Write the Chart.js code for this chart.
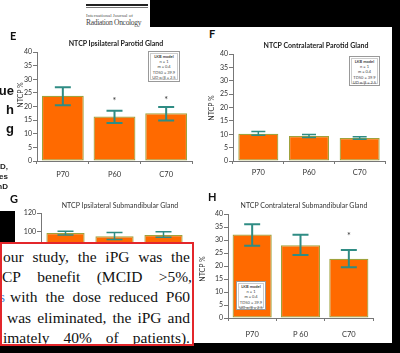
<!DOCTYPE html>
<html>
<head>
<meta charset="utf-8">
<script src="https://cdn.jsdelivr.net/npm/chart.js@4.4.1/dist/chart.umd.min.js"></script>
<style>
  html, body { margin: 0; padding: 0; background: #fff; }
  #page { position: relative; width: 400px; height: 353px; overflow: hidden; background: #fff; font-family: Lato, sans-serif; }
  .abs { position: absolute; }
  .blk { position: absolute; background: #000; }
  canvas { position: absolute; }
  .letter { position: absolute; font: bold 11px Lato, sans-serif; color: #111; }
  .ttl { position: absolute; font-size: 7px; color: #333; white-space: nowrap; transform: translate(-50%, -50%); }
  .ttl.b { font-weight: bold; color: #222; }
  .ytl { position: absolute; font-size: 7px; color: #333; white-space: nowrap; transform: translate(-50%, -50%) rotate(-90deg); }
  .lkb { position: absolute; box-sizing: border-box; background: #fff; border: 1px solid #999; box-shadow: inset 0 0 0 1px #fff, inset 0 0 0 2px #ccc;
         font-size: 4px; line-height: 5.2px; text-align: center; color: #444; padding-top: 2px; }
  .lkb div:first-child { font-weight: bold; }
  #quote { position: absolute; left: 0; top: 242px; width: 190px; height: 100px; border: 2px solid #e3262b; background: #fff; overflow: hidden;
           font-family: 'Liberation Serif', serif; font-size: 15.5px; color: #111; }
  .ln { position: absolute; display: flex; justify-content: space-between; white-space: nowrap; height: 20px; line-height: 20px; }
</style>
</head>
<body>
<div id="page">
  <canvas id="cE" width="196" height="140" style="left:0;top:45px"></canvas>
  <canvas id="cF" width="192" height="140" style="left:200px;top:45px"></canvas>
  <canvas id="cG" width="196" height="150" style="left:0;top:200px"></canvas>
  <canvas id="cH" width="190" height="140" style="left:195px;top:205px"></canvas>

  <!-- journal header -->
  <div class="abs" style="left:86px;top:4px;width:62px;border-top:2px solid #222"></div>
  <div class="abs" style="left:86px;top:7px;width:62px;border-top:1px solid #777"></div>
  <div class="abs" style="left:86px;top:13px;font:5px 'Liberation Serif',serif;color:#555;white-space:nowrap">International Journal of</div>
  <div class="abs" style="left:86px;top:18px;font:7.5px 'Liberation Serif',serif;letter-spacing:-0.3px;color:#444;white-space:nowrap">Radiation Oncology</div>

  <!-- cropped page text on the left -->
  <div class="abs" style="right:386px;top:81px;font:bold 13px 'Liberation Sans',sans-serif;line-height:19px;text-align:right;color:#111">ue<br>h<br>g</div>
  <div class="abs" style="right:392px;top:162px;font:bold 8px 'Liberation Sans',sans-serif;line-height:10px;text-align:right;color:#222">D,<br>es<br>hD</div>

  <div class="letter" style="left:10px;top:29px">E</div>
  <div class="letter" style="left:209px;top:27px">F</div>
  <div class="letter" style="left:10px;top:192px">G</div>
  <div class="letter" style="left:208px;top:190px">H</div>

  <div class="ttl b" style="left:116px;top:43px">NTCP Ipsilateral Parotid Gland</div>
  <div class="ttl b" style="left:316px;top:45px">NTCP Contralateral Parotid Gland</div>
  <div class="ttl" style="left:120px;top:205px">NTCP Ipsilateral Submandibular Gland</div>
  <div class="ttl" style="left:304px;top:205px">NTCP Contralateral Submandibular Gland</div>

  <div class="ytl" style="left:20px;top:95px">NTCP %</div>
  <div class="ytl" style="left:211px;top:108px">NTCP %</div>
  <div class="ytl" style="left:202px;top:269px">NTCP %</div>

  <div class="lkb" id="lkbE" style="left:148px;top:51px;width:32px;height:31px"></div>
  <div class="lkb" id="lkbF" style="left:349px;top:56px;width:31px;height:30px"></div>
  <div class="lkb" id="lkbH" style="left:236px;top:281px;width:30px;height:29px"></div>

  <!-- black surroundings of the screenshot -->
  <div class="blk" style="left:150px;top:0;width:250px;height:27px"></div>
  <div class="blk" style="left:392px;top:0;width:8px;height:353px"></div>
  <div class="blk" style="left:0;top:343px;width:400px;height:10px"></div>
  <div class="blk" style="left:0;top:211px;width:15px;height:32px"></div>

  <div id="quote"></div>
</div>

<script>
// categories
const groups = ['P70', 'P60', 'C70'];
const groupsH = ['P70', 'P 60', 'C70'];

// E: ipsilateral parotid gland
const ipgNtcp = [23.9, 16.3, 17.5];
const ipgLow = [20.5, 13.9, 14.9];
const ipgHigh = [27.1, 18.4, 19.8];
const ipgStar = [null, 22.6, 23.2];

// F: contralateral parotid gland
const cpgNtcp = [10.2, 9.3, 8.6];
const cpgLow = [9.6, 8.8, 8.1];
const cpgHigh = [11.0, 9.9, 9.1];

// G: ipsilateral submandibular gland
const ismNtcp = [98.5, 95, 96.5];
const ismLow = [96.5, 91.5, 94];
const ismHigh = [100.5, 99, 100];

// H: contralateral submandibular gland
const csmNtcp = [32.1, 28.0, 22.8];
const csmLow = [27.8, 24.2, 19.5];
const csmHigh = [36.1, 32.0, 26.2];
const csmStar = [null, null, 32.2];

const lkbLines = ['LKB model', 'n = 1', 'm = 0.4', 'TD50 = 39.9', 'UD α/β = 2.5'];

const quoteLines = [
  'our study, the iPG was the',
  'CP benefit (MCID >5%,',
  'with the dose reduced P60',
  'was eliminated, the iPG and',
  'imately 40% of patients).'
];

const BAR_FILL = '#ff6a00';
const BAR_EDGE = '#9fa23c';
const ERR = '#2f8c84';
const AXIS = '#777';

Chart.defaults.font.family = 'Lato, sans-serif';

// error bars + significance stars, positioned through the chart's own scales
function errorBars(low, high, stars, cap, width) {
  return {
    id: 'errorBars',
    afterDatasetsDraw(chart) {
      const ctx = chart.ctx;
      const x = chart.scales.x, y = chart.scales.y;
      ctx.save();
      ctx.strokeStyle = ERR;
      ctx.lineWidth = width;
      low.forEach((lo, i) => {
        const px = x.getPixelForValue(i);
        const yl = y.getPixelForValue(lo);
        const yh = y.getPixelForValue(high[i]);
        ctx.beginPath();
        ctx.moveTo(px, yl); ctx.lineTo(px, yh);
        ctx.moveTo(px - cap, yl); ctx.lineTo(px + cap, yl);
        ctx.moveTo(px - cap, yh); ctx.lineTo(px + cap, yh);
        ctx.stroke();
      });
      ctx.fillStyle = '#333';
      ctx.font = '9px Lato, sans-serif';
      ctx.textAlign = 'center';
      ctx.textBaseline = 'middle';
      (stars || []).forEach((s, i) => {
        if (s != null) ctx.fillText('*', x.getPixelForValue(i), y.getPixelForValue(s) + 2);
      });
      ctx.restore();
    }
  };
}

function panel(id, p) {
  return new Chart(document.getElementById(id), {
    type: 'bar',
    data: {
      labels: p.labels,
      datasets: [{
        data: p.values,
        backgroundColor: BAR_FILL,
        borderColor: BAR_EDGE,
        borderWidth: 1.2,
        borderSkipped: false,
        barPercentage: p.barPct,
        categoryPercentage: 1
      }]
    },
    options: {
      responsive: false,
      animation: false,
      events: [],
      layout: { padding: { top: p.padTop, right: p.padRight, left: 0, bottom: 0 } },
      plugins: { legend: { display: false }, tooltip: { enabled: false } },
      scales: {
        x: {
          grid: { drawOnChartArea: false, tickLength: 3, color: AXIS },
          border: { color: AXIS },
          ticks: { font: { size: 7.5 }, color: '#333', padding: p.xPad },
          afterFit: s => { s.height = p.xHeight; }
        },
        y: {
          min: 0, max: p.yMax,
          grid: { drawOnChartArea: false, tickLength: 4, color: AXIS },
          border: { color: AXIS },
          ticks: { stepSize: p.step, font: { size: 7 }, color: '#333', padding: 1 },
          afterFit: s => { s.width = p.yWidth; }
        }
      }
    },
    plugins: [errorBars(p.low, p.high, p.stars, p.cap, p.errWidth)]
  });
}

panel('cE', { labels: groups, values: ipgNtcp, low: ipgLow, high: ipgHigh, stars: ipgStar,
  yMax: 40, step: 5, yWidth: 37, xHeight: 24, xPad: 6.5, padTop: 7, padRight: 4, barPct: 0.81, cap: 8, errWidth: 2 });
panel('cF', { labels: groups, values: cpgNtcp, low: cpgLow, high: cpgHigh, stars: null,
  yMax: 40, step: 5, yWidth: 33, xHeight: 24, xPad: 4.5, padTop: 9, padRight: 7, barPct: 0.79, cap: 7, errWidth: 1.5 });
panel('cG', { labels: groups, values: ismNtcp, low: ismLow, high: ismHigh, stars: null,
  yMax: 120, step: 20, yWidth: 41, xHeight: 25, xPad: 6, padTop: 13, padRight: 8, barPct: 0.78, cap: 8, errWidth: 1.5 });
panel('cH', { labels: groupsH, values: csmNtcp, low: csmLow, high: csmHigh, stars: csmStar,
  yMax: 40, step: 5, yWidth: 33, xHeight: 27, xPad: 9.5, padTop: 9, padRight: 12, barPct: 0.81, cap: 8, errWidth: 2 });

// LKB model boxes
['lkbE', 'lkbF', 'lkbH'].forEach(id => {
  document.getElementById(id).innerHTML = lkbLines.map(t => '<div>' + t + '</div>').join('');
});

// quoted paragraph, each line justified across the box
const lineLeft = [1, 0, 8, 5, 1];
const quote = document.getElementById('quote');
quoteLines.forEach((t, i) => {
  const d = document.createElement('div');
  d.className = 'ln';
  d.style.left = lineLeft[i] + 'px';
  d.style.right = (i === 1 ? 0 : 2) + 'px';
  d.style.top = (3 + i * 20.2) + 'px';
  d.innerHTML = t.split(' ').map(w => '<span>' + w.replace('>', '&gt;') + '</span>').join('');
  quote.appendChild(d);
});
const blue = document.createElement('div');
blue.className = 'abs';
blue.style.cssText = 'left:-3px;top:43px;color:#4a86d8;line-height:20px';
blue.textContent = 's';
quote.appendChild(blue);
</script>
</body>
</html>
